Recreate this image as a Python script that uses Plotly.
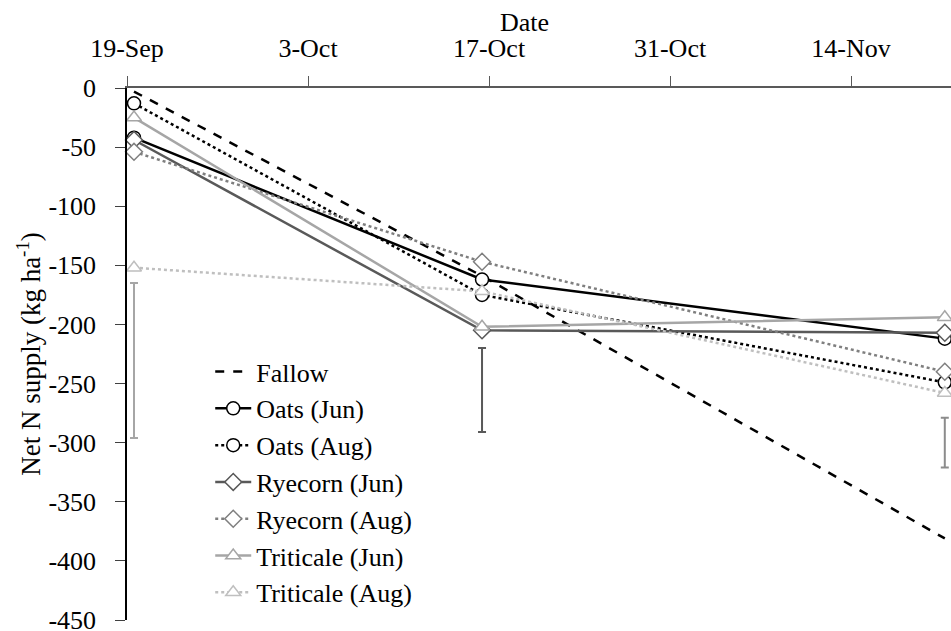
import plotly.graph_objects as go

# ---- data ----
dates = ["2013-09-19 13:00", "2013-10-16 11:00", "2013-11-21 06:00"]
series_names = ["Fallow", "Oats (Jun)", "Oats (Aug)", "Ryecorn (Jun)",
                "Ryecorn (Aug)", "Triticale (Jun)", "Triticale (Aug)"]
fallow = [-3, -159, -381]
oats_jun = [-42, -162, -212]
oats_aug = [-13, -175, -249]
ryecorn_jun = [-44, -205, -207]
ryecorn_aug = [-54, -147, -240]
triticale_jun = [-25, -202, -194]
triticale_aug = [-152, -172, -258]
# vertical bars (centre and half-length)
bar_centre = [-230.5, -255.5, -300]
bar_half = [65.5, 35.5, 21]
bar_colors = ["#a6a6a6", "#595959", "#8c8c8c"]
y_tick_values = [0, -50, -100, -150, -200, -250, -300, -350, -400, -450]
y_tick_labels = ["0", "-50", "-100", "-150", "-200", "-250", "-300", "-350", "-400", "-450"]

values = [fallow, oats_jun, oats_aug, ryecorn_jun, ryecorn_aug, triticale_jun, triticale_aug]
colors = ["#000000", "#000000", "#000000", "#595959", "#7f7f7f", "#a6a6a6", "#bfbfbf"]
dashes = ["dash", "solid", "dot", "solid", "dot", "solid", "dot"]
symbols = [None, "circle", "circle", "diamond", "diamond", "triangle-up", "triangle-up"]

FONT = "Liberation Serif, Times New Roman, serif"

fig = go.Figure()

# bars
for i in range(3):
    fig.add_trace(go.Scatter(
        x=[dates[i]], y=[bar_centre[i]], mode="markers",
        marker=dict(size=1, color="rgba(0,0,0,0)"),
        error_y=dict(type="data", array=[bar_half[i]], symmetric=True,
                     color=bar_colors[i], thickness=2, width=4),
        showlegend=False, hoverinfo="skip", cliponaxis=False))

for name, vals, col, dsh, sym in zip(series_names, values, colors, dashes, symbols):
    if sym is None:
        fig.add_trace(go.Scatter(x=dates, y=vals, name=name, mode="lines",
                                 line=dict(color=col, width=2.5, dash=dsh),
                                 legendgroup=name, cliponaxis=False))
    else:
        fig.add_trace(go.Scatter(x=dates, y=vals, name=name, mode="lines+markers",
                                 line=dict(color=col, width=2.5, dash=dsh),
                                 marker=dict(symbol=sym, size=13, color="white",
                                             line=dict(color=col, width=1.5)),
                                 legendgroup=name, cliponaxis=False))

fig.update_layout(
    width=951, height=631,
    margin=dict(l=127, r=0, t=88, b=11, autoexpand=False),
    paper_bgcolor="white", plot_bgcolor="white",
    font=dict(family=FONT, size=26, color="black"),
    showlegend=True,
    legend=dict(x=0.101, y=0.511, xanchor="left", yanchor="top",
                bgcolor="rgba(0,0,0,0)", tracegroupgap=0,
                font=dict(family=FONT, size=26), itemwidth=36),
    xaxis=dict(type="date", side="top",
               range=["2013-09-19 00:00", "2013-11-21 17:30"],
               tick0="2013-09-19", dtick=14 * 86400000, tickformat="%-d-%b",
               ticks="outside", ticklen=10, tickwidth=1, tickcolor="#595959",
               showline=True, linecolor="#595959", linewidth=2,
               showgrid=False, zeroline=False, ticklabelstandoff=9,
               ticklabeloverflow="allow",
               tickfont=dict(family=FONT, size=26)),
    yaxis=dict(range=[-450, 0], tickmode="array", tickvals=y_tick_values,
               ticktext=y_tick_labels,
               ticks="outside", ticklen=10, tickwidth=1, tickcolor="#404040",
               showline=True, linecolor="black", linewidth=1.5,
               showgrid=False, zeroline=False, ticklabelstandoff=14,
               ticklabeloverflow="allow",
               tickfont=dict(family=FONT, size=26),
               title=dict(text="Net N supply (kg ha<sup>-1</sup>)",
                          font=dict(family=FONT, size=27), standoff=0)),
    annotations=[dict(text="Date", x=0.483, y=1.124, xref="paper", yref="paper",
                      showarrow=False, font=dict(family=FONT, size=26),
                      xanchor="center", yanchor="middle")],
)

fig.write_html("out.html")
